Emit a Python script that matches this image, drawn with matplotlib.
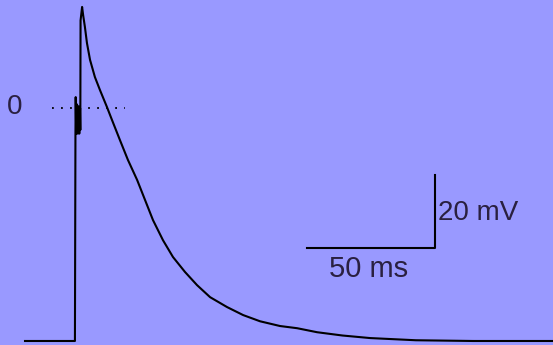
import numpy as np
from matplotlib import pyplot as plt

# Action potential trace (time in ms, voltage in mV)
time_ms = [0.0, 19.5, 19.7, 19.8, 20.0, 20.3, 20.6, 20.9, 21.2, 21.5, 21.6, 21.7,
           22.3, 22.7, 23.4, 24.2,
           25.4, 27.3, 29.3, 32.0, 34.0, 37.1, 40.2, 43.8, 46.9, 50.0, 53.9,
           57.8, 62.5, 67.2, 72.3, 78.9, 85.2, 91.8, 99.6, 106.3, 114.1, 124.0,
           134.8, 152.7, 175.0, 206.3]
voltage_mv = [-63.8, -63.8, -7.5, 3.0, -7.0, 1.0, -7.0, 0.5, -7.0, 0.0, -6.0, 24.0,
              27.7, 25.5, 22.2, 17.8,
              13.2, 8.5, 4.9, 0.3, -3.3, -8.8, -14.2, -19.7, -25.2, -30.7, -36.2,
              -40.8, -44.9, -48.5, -51.8, -54.5, -56.7, -58.4, -59.7, -60.3, -61.4, -62.3,
              -63.0, -63.6, -63.8, -63.8]

# Dotted zero reference line
zero_line_ms = [10.5, 39.0]

# Scale bar: 50 ms by 20 mV
bar_t0, bar_v0 = 110.2, -38.4
bar_ms = 50
bar_mv = 20

bg_color = "#9999ff"
text_color = "#2a2040"

fig = plt.figure(figsize=(5.53, 3.45), dpi=100, facecolor=bg_color)
ax = fig.add_axes([0, 0, 1, 1])
ax.set_facecolor(bg_color)

# Trace
ax.plot(time_ms, voltage_mv, color="black", linewidth=1.5, solid_joinstyle="round")

# Zero line and label
ax.plot(zero_line_ms, [0, 0], color="black", linewidth=1.3, linestyle=(0, (1, 4)), zorder=0)
ax.text(-3.9, 0.3, "0", color=text_color, fontsize=20, family="Liberation Sans",
        ha="center", va="center")

# Scale bar
ax.plot([bar_t0, bar_t0 + bar_ms, bar_t0 + bar_ms],
        [bar_v0, bar_v0, bar_v0 + bar_mv], color="black", linewidth=1.5)
ax.text(bar_t0 + bar_ms / 2 - 1.0, bar_v0 - 1.8, f"{bar_ms} ms", color=text_color,
        fontsize=21, family="Liberation Sans", ha="center", va="top")
ax.text(bar_t0 + bar_ms + 1.2, bar_v0 + bar_mv / 2 - 0.4, f"{bar_mv} mV", color=text_color,
        fontsize=20, family="Liberation Sans", ha="left", va="center")

ax.set_xlim(-9.77, 206.25)
ax.set_ylim(-64.9, 29.6)
ax.axis("off")

plt.savefig("out.png", dpi=100, facecolor=bg_color)
